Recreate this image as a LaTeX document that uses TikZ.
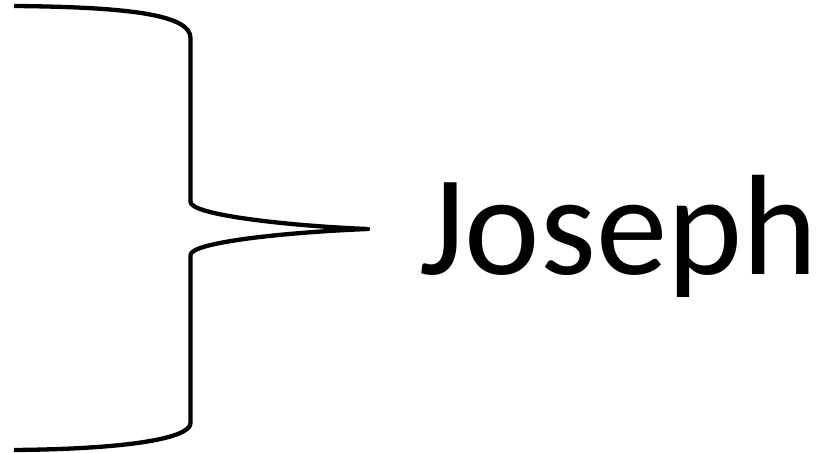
\documentclass[tikz,border=0pt]{standalone}
\usepackage{fontspec}
\setmainfont{Carlito}
\begin{document}
\begin{tikzpicture}[x=1pt,y=1pt,
  bracestyle/.style={line width=4.3pt, line cap=butt, line join=round, black},
  labelstyle/.style={font=\fontsize{143}{150}\selectfont, inner sep=0pt, anchor=base west}]
\useasboundingbox (0,0) rectangle (823,453);
\coordinate (top) at (14,447);
\coordinate (c1) at (190.5,415);
\coordinate (c2) at (190.5,251);
\coordinate (tip) at (368,224);
\coordinate (c3) at (190.5,198);
\coordinate (c4) at (190.5,30);
\coordinate (bot) at (14,3);
\draw[bracestyle] (top) .. controls (130,446) and (190.5,438) .. (c1)
  -- (c2) .. controls (190.5,238) and (290,227) .. (tip)
  .. controls (290,221) and (190.5,211) .. (c3)
  -- (c4) .. controls (190.5,15) and (130,4) .. (bot);
\node[labelstyle] (name) at (419,178) {Joseph};
\end{tikzpicture}
\end{document}
